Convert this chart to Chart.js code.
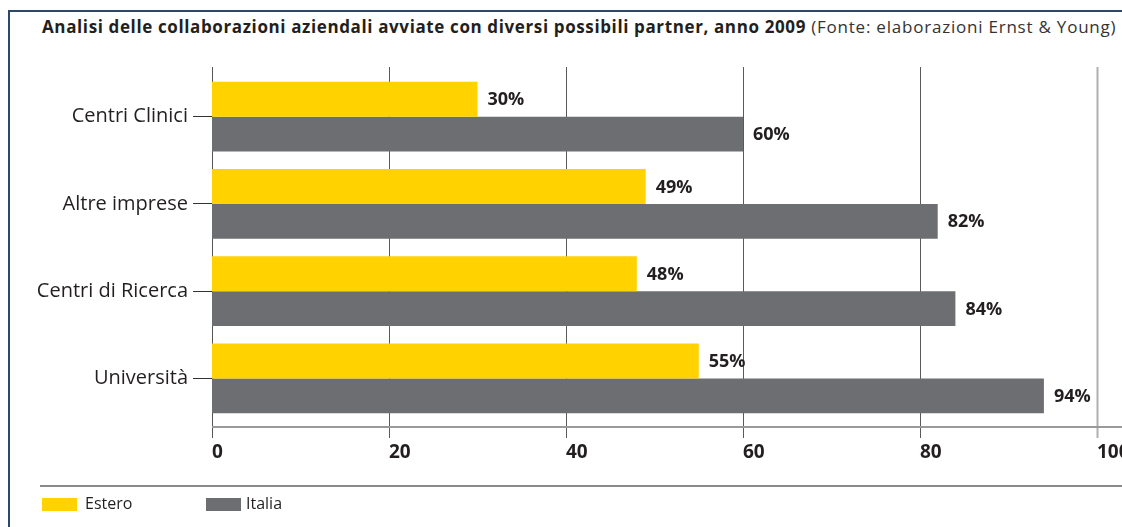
<!DOCTYPE html>
<html>
<head>
<meta charset="utf-8">
<script src="https://cdn.jsdelivr.net/npm/chart.js@4"></script>
<style>
    html, body { margin: 0; padding: 0; background: #fff; overflow: hidden; }
    #wrap { position: relative; width: 1122px; height: 527px; overflow: hidden; }
    #frame { position: absolute; left: 8px; top: 10px; width: 1200px; height: 600px;
             border-left: 2px solid #2b4868; border-top: 2px solid #2b4868; }
    #title { position: absolute; left: 42px; top: 15px; white-space: nowrap;
             font-family: "Open Sans", sans-serif; font-size: 17px; letter-spacing: 0.78px; color: #231f20; }
    #title b { font-weight: 700; letter-spacing: 0.62px; }
    #title span { color: #333; }
    #box { position: absolute; left: 0; top: 0; width: 1150px; height: 527px; }
</style>
</head>
<body>
<div id="wrap">
    <div id="frame"></div>
    <div id="title"><b>Analisi delle collaborazioni aziendali avviate con diversi possibili partner, anno 2009</b> <span>(Fonte: elaborazioni Ernst &amp; Young)</span></div>
    <div id="box"><canvas id="chart" width="1150" height="527"></canvas></div>
</div>
<script>
const categories = ['Centri Clinici', 'Altre imprese', 'Centri di Ricerca', 'Università'];
const estero = [30, 49, 48, 55];
const italia = [60, 82, 84, 94];
const xTicks = [0, 20, 40, 60, 80, 100];

const FONT = '"Open Sans", sans-serif';

// assi, griglia, etichette valori e legenda disegnati a mano
const decorPlugin = {
    id: 'decor',
    beforeDatasetsDraw(chart) {
        const ctx = chart.ctx;
        const area = chart.chartArea;
        const x = chart.scales.x;
        ctx.save();
        xTicks.forEach(v => {
            const px = Math.round(x.getPixelForValue(v)) + 0.5;
            ctx.beginPath();
            ctx.strokeStyle = v === 100 ? '#b0b0b0' : (v === 0 ? '#555' : '#5a5a5a');
            ctx.lineWidth = v === 100 ? 2 : 1;
            ctx.moveTo(px, area.top - 6);
            ctx.lineTo(px, area.bottom + 16);
            ctx.stroke();
        });
        // linea orizzontale dell'asse
        ctx.beginPath();
        ctx.strokeStyle = '#9a9a9a';
        ctx.lineWidth = 2;
        ctx.moveTo(x.getPixelForValue(0), area.bottom + 5);
        ctx.lineTo(chart.width, area.bottom + 5);
        ctx.stroke();
        ctx.restore();
    },
    afterDatasetsDraw(chart) {
        const ctx = chart.ctx;
        ctx.save();
        ctx.font = 'bold 18px ' + FONT;
        ctx.fillStyle = '#231f20';
        ctx.textBaseline = 'middle';
        chart.data.datasets.forEach((ds, i) => {
            chart.getDatasetMeta(i).data.forEach((bar, j) => {
                ctx.fillText(ds.data[j] + '%', bar.x + 10, bar.y + 1);
            });
        });

        // separatore e legenda
        ctx.beginPath();
        ctx.strokeStyle = '#8a8a8a';
        ctx.lineWidth = 2;
        ctx.moveTo(40, 486);
        ctx.lineTo(chart.width, 486);
        ctx.stroke();

        const lefts = [42, 206];
        ctx.font = '16px ' + FONT;
        chart.data.datasets.forEach((ds, i) => {
            ctx.fillStyle = ds.backgroundColor;
            ctx.fillRect(lefts[i], 498, 35, 13);
            ctx.fillStyle = '#231f20';
            ctx.fillText(ds.label, lefts[i] + (i === 0 ? 43 : 40), 504);
        });
        ctx.restore();
    }
};

new Chart(document.getElementById('chart'), {
    type: 'bar',
    data: {
        labels: categories,
        datasets: [
            { label: 'Estero', data: estero, backgroundColor: '#ffd200' },
            { label: 'Italia', data: italia, backgroundColor: '#6d6e71' }
        ]
    },
    options: {
        indexAxis: 'y',
        responsive: false,
        animation: false,
        layout: { padding: { left: 0, right: 53, top: 73, bottom: 55 } },
        datasets: { bar: { barPercentage: 1, categoryPercentage: 0.8 } },
        plugins: {
            legend: { display: false },
            tooltip: { enabled: false }
        },
        scales: {
            x: {
                min: 0,
                max: 100,
                afterBuildTicks: scale => { scale.ticks = xTicks.map(v => ({ value: v })); },
                afterFit: scale => { scale.height = 50; },
                grid: { display: false, drawTicks: false },
                border: { display: false },
                ticks: {
                    align: 'start',
                    padding: 19,
                    color: '#231f20',
                    font: { family: FONT, size: 19, weight: 'bold' }
                }
            },
            y: {
                afterFit: scale => { scale.width = 212; },
                grid: { display: true, drawOnChartArea: false, offset: false, tickLength: 19, color: '#333' },
                border: { display: false },
                ticks: {
                    padding: 5,
                    color: '#231f20',
                    font: { family: FONT, size: 20 }
                }
            }
        }
    },
    plugins: [decorPlugin]
});
</script>
</body>
</html>
